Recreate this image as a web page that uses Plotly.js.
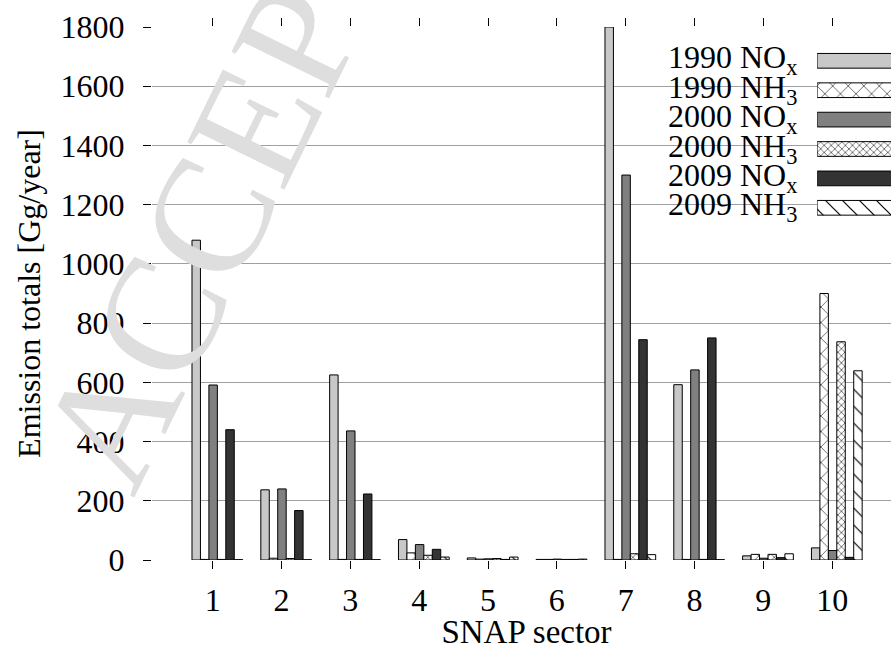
<!DOCTYPE html>
<html><head><meta charset="utf-8">
<script src="https://cdn.plot.ly/plotly-3.0.1.min.js"></script>
<style>html,body{margin:0;padding:0;overflow:hidden;background:#fff;width:891px;height:650px}</style>
</head><body><div id="chart"></div>
<script>
const sectors = [1,2,3,4,5,6,7,8,9,10];
const seriesNames = ['1990 NO<sub>x</sub>','1990 NH<sub>3</sub>','2000 NO<sub>x</sub>','2000 NH<sub>3</sub>','2009 NO<sub>x</sub>','2009 NH<sub>3</sub>'];
const nox1990 = [1080,237,625,69,7,2,1800,592,14,41];
const nh31990 = [2,6,2,24,3,2,2,2,19,900];
const nox2000 = [591,240,436,52,4,3,1300,642,6,32];
const nh32000 = [2,5,2,16,5,2,21,2,19,737];
const nox2009 = [440,167,223,36,2,2,744,750,8,9];
const nh32009 = [1,1,1,10,10,3,18,1,21,639];
const yTicks = [0,200,400,600,800,1000,1200,1400,1600,1800];

const seriesValues = [nox1990, nh31990, nox2000, nh32000, nox2009, nh32009];
const FONT = '"Liberation Serif", "Times New Roman", serif';
const outline = {color:'#000', width:1};
const styles = [
  {color:'#c8c8c8', line:outline},
  {color:'#ffffff', line:outline, pattern:{shape:'x', size:11, solidity:0.1, fgcolor:'#000', bgcolor:'#fff'}},
  {color:'#808080', line:outline},
  {color:'#ffffff', line:outline, pattern:{shape:'x', size:5, solidity:0.2, fgcolor:'#000', bgcolor:'#fff'}},
  {color:'#333333', line:outline},
  {color:'#ffffff', line:outline, pattern:{shape:'\\', size:12, solidity:0.1, fgcolor:'#000', bgcolor:'#fff'}}
];
const barW = 0.1228, firstOff = -0.301;
const traces = [];
seriesValues.forEach((vals, i) => {
  traces.push({type:'bar', x:sectors, y:vals, name:seriesNames[i], width:barW, offset:firstOff + i*barW,
    marker:styles[i], hoverinfo:'skip', showlegend:false, cliponaxis:true});
});
// custom legend samples
seriesNames.forEach((nm, i) => {
  traces.push({type:'bar', orientation:'h', xaxis:'x2', yaxis:'y2', y:[nm], x:[1], width:0.5, offset:-0.25,
    marker:styles[i], hoverinfo:'skip', showlegend:false});
});
const legendLabels = seriesNames.map((nm, i) => ({text:nm, xref:'x2', yref:'y2', x:0, y:i, xanchor:'right', yanchor:'middle',
  xshift:-18, yshift:1, showarrow:false, font:{family:FONT, size:32, color:'#000'}}));

const layout = {
  width:911, height:650,
  margin:{l:152, r:10, t:27, b:90},
  paper_bgcolor:'#fff', plot_bgcolor:'#fff',
  font:{family:FONT, size:32, color:'#000'},
  showlegend:false,
  barmode:'overlay',
  xaxis:{range:[0.118, 11.0], tickvals:sectors, ticktext:sectors.map(String), ticks:'outside', ticklen:8, tickwidth:1,
    tickcolor:'#000', mirror:'ticks', showgrid:false, showline:false, zeroline:false, ticklabelstandoff:4,
    tickfont:{family:FONT, size:32}, title:{text:'SNAP sector', font:{family:FONT, size:33}, standoff:8}},
  yaxis:{range:[0,1800], tickvals:yTicks, ticks:'outside', ticklen:8, tickwidth:1, tickcolor:'#000',
    showgrid:true, gridcolor:'#a0a0a0', gridwidth:1, showline:false, zeroline:false, ticklabelstandoff:12,
    tickfont:{family:FONT, size:32}, title:{text:'Emission totals [Gg/year]', font:{family:FONT, size:32}, standoff:10}},
  xaxis2:{domain:[0.888,1], range:[0,1], visible:false, anchor:'y2', fixedrange:true},
  yaxis2:{domain:[0.6167,0.9769], anchor:'x2', type:'category', categoryarray:seriesNames, autorange:'reversed',
    showgrid:false, zeroline:false, showline:false, ticks:'', showticklabels:false},
  shapes:[{type:'rect', xref:'paper', yref:'paper', x0:0.682, x1:1.05, y0:0.608, y1:0.989, fillcolor:'#fff', line:{width:0}, layer:'between'}],
  annotations:[{text:'ACCEPTED MANUSCRIPT', xref:'paper', yref:'paper', x:0.481, y:1.81, xanchor:'center', yanchor:'middle',
    textangle:-64, showarrow:false, font:{family:FONT, size:165, color:'#dedede'}}].concat(legendLabels)
};
Plotly.newPlot('chart', traces, layout, {staticPlot:true, displayModeBar:false});
</script></body></html>
